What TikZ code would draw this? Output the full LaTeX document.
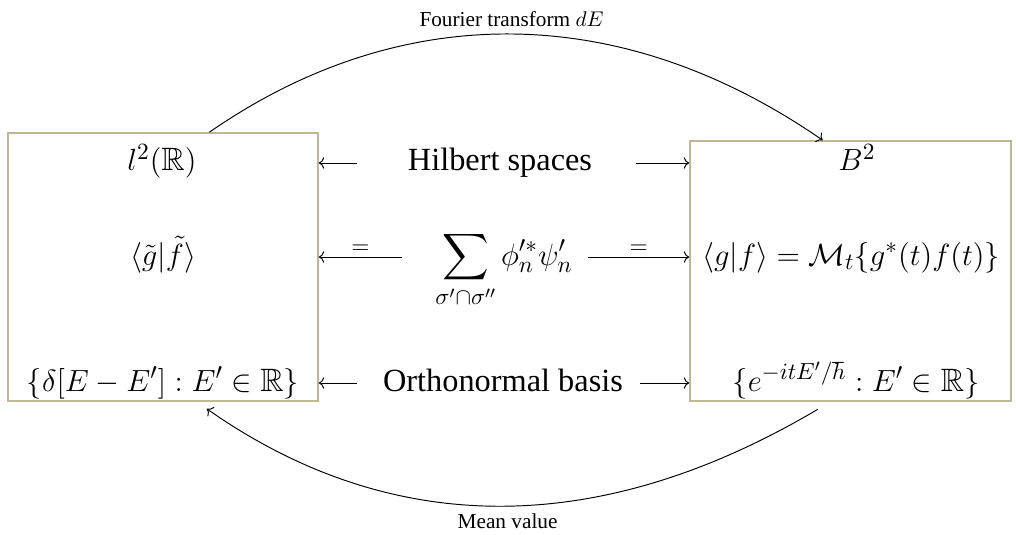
\documentclass[tikz,border=0pt]{standalone}
\usepackage{amsmath,amssymb}
\usepackage{fontspec}
\setmainfont{Liberation Serif}
\usetikzlibrary{
    calc,
    arrows.meta
}
\definecolor{boxline}{RGB}{190,184,150}
\tikzset{
  every path/.style={
    black,
    line width=0.45pt
  },
  box/.style={
    draw=boxline,
    line width=0.7pt,
    rectangle,
    inner sep=0pt
  },
  txt/.style={
    font=\fontsize{15.2}{18}\selectfont,
    anchor=base
  },
  lbl/.style={
    font=\fontsize{10}{12}\selectfont
  },
  eqlbl/.style={
    font=\fontsize{10.5}{12}\selectfont,
    inner sep=1.5pt
  }
}

\begin{document}
\begin{tikzpicture}[x=0.47pt,y=-0.47pt,
    >={Computer Modern Rightarrow[length=2.6pt,width=5.4pt]}]

    \useasboundingbox (0,0) rectangle (1016,535);

    % 左右の枠
    \node[box, minimum width=145.7pt, minimum height=126pt] (lbox) at (163,267) {};
    \node[box, minimum width=150.9pt, minimum height=122.2pt] (rbox) at (850.5,271) {};

    % 左の空間
    \node[txt] (lsp) at (162,171) {$l^2(\mathbb{R})$};
    \node[txt] (lip) at (163,265) {$\langle\tilde{g}|\tilde{f}\rangle$};
    \node[txt] (lbs) at (163,391) {$\{\delta[E-E']:E'\in\mathbb{R}\}$};

    % 右の空間
    \node[txt] (rsp) at (857,171) {$B^2$};
    \node[txt] (rip) at (851,265) {$\langle g|f\rangle=\mathcal{M}_t\{g^*(t)f(t)\}$};
    \node[txt] (rbs) at (856,391) {$\{e^{-itE'/\hbar}:E'\in\mathbb{R}\}$};

    % 中央
    \node[txt] (hs) at (500,171) {Hilbert spaces};
    \node[txt] (sm) at (504,265)
        {$\displaystyle\sum_{\sigma'\cap\sigma''}\phi'^{*}_n\psi'_n$};
    \node[txt] (ob) at (503,391) {Orthonormal basis};

    % 横の矢印
    \coordinate (hsl) at (357,163);
    \coordinate (hsr) at (636,163);
    \coordinate (sml) at (402,257);
    \coordinate (smr) at (588,257);
    \coordinate (obl) at (357,383);
    \coordinate (obr) at (640,383);

    \draw[->] (hsl) -- (hsl -| lbox.east);
    \draw[->] (hsr) -- (hsr -| rbox.west);
    \draw[->] (sml) -- (sml -| lbox.east)
        node[midway, above, eqlbl] {$=$};
    \draw[->] (smr) -- (smr -| rbox.west)
        node[midway, above, eqlbl] {$=$};
    \draw[->] (obl) -- (obl -| lbox.east);
    \draw[->] (obr) -- (obr -| rbox.west);

    % 上下の曲線
    \draw[->] (lbox.71.8)
        .. controls (400,0) and (620,0) .. (rbox.102.4)
        node[midway, above, lbl] {Fourier transform $dE$};
    \draw[->] ([yshift=-3.5pt]rbox.-104.9)
        .. controls (611,532) and (401,545) .. ([yshift=-3.3pt]lbox.-72.6)
        node[midway, below, lbl] {Mean value};

\end{tikzpicture}
\end{document}
